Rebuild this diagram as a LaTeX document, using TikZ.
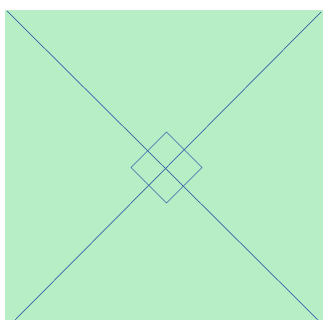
\documentclass[tikz,border=0pt]{standalone}
\usetikzlibrary{calc}
\definecolor{paper}{RGB}{184,238,198}
\definecolor{ink}{RGB}{52,100,168}
\tikzset{crease/.style={draw=ink,line width=0.7pt}}
\begin{document}
\begin{tikzpicture}[x=1pt,y=-1pt]
\useasboundingbox (0,0) rectangle (323,320);
\fill[white] (0,0) rectangle (323,320);
\fill[paper] (5,10) -- (323,10) -- (323,320) -- (5,320) -- cycle;
\coordinate (tl) at (7,11);
\coordinate (br) at (318,320);
\coordinate (tr) at (321,12);
\coordinate (bl) at (15,320);
\draw[crease] (tl) -- (br);
\draw[crease] (tr) -- (bl);
\coordinate (c) at (166.5,167.5);
\coordinate (dt) at ($(c)+(0,-35.5)$);
\coordinate (dr) at ($(c)+(35.5,0)$);
\coordinate (db) at ($(c)+(0,35.5)$);
\coordinate (dl) at ($(c)+(-35.5,0)$);
\draw[crease] (dt) -- (dr) -- (db) -- (dl) -- cycle;
\end{tikzpicture}
\end{document}
